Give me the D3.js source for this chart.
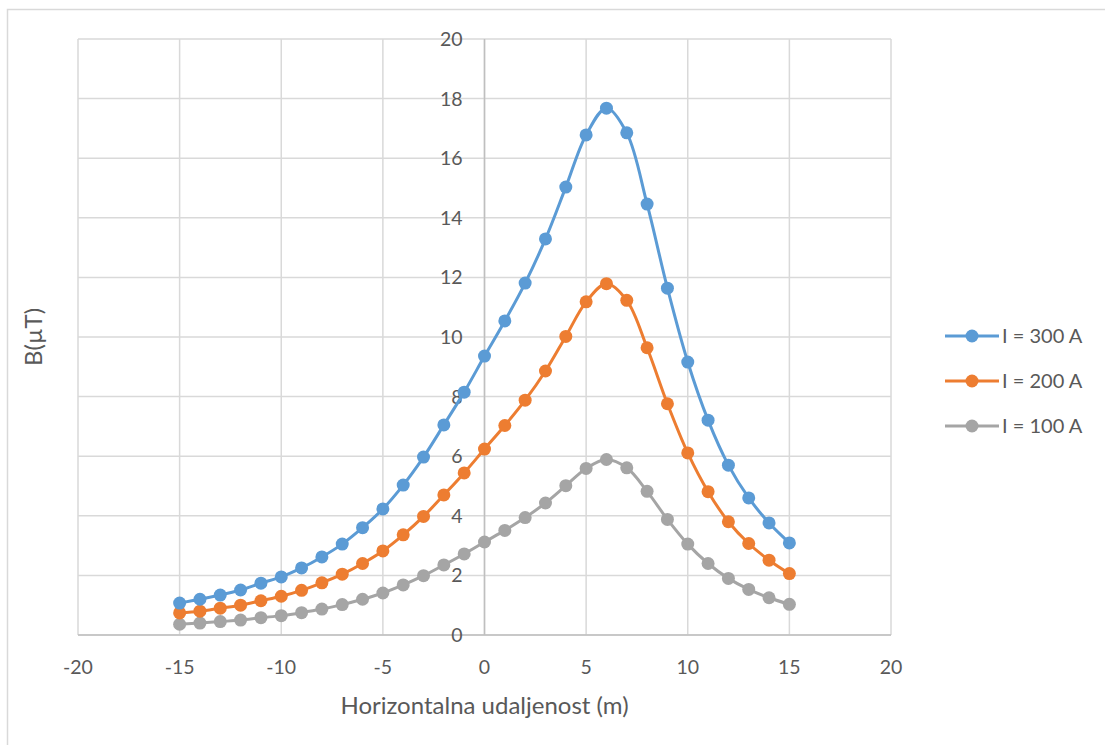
<!DOCTYPE html>
<html>
<head>
<meta charset="utf-8">
<script src="https://cdn.jsdelivr.net/npm/d3@7"></script>
<style>
  body { margin: 0; background: #fff; }
  text { font-family: Lato, "Open Sans", sans-serif; fill: #595959; }
</style>
</head>
<body>
<script>
// x positions (m)
const distances = d3.range(-15, 16);

// B values (uT)
const i300 = [1.07, 1.2, 1.34, 1.51, 1.74, 1.95, 2.25, 2.62, 3.05, 3.6, 4.23, 5.03, 5.97, 7.05, 8.15,
  9.36, 10.54, 11.81, 13.29, 15.03, 16.78, 17.68, 16.85, 14.46, 11.64, 9.16, 7.21, 5.7, 4.6, 3.76, 3.09];
const i200 = [0.74, 0.8, 0.9, 1.0, 1.15, 1.3, 1.5, 1.75, 2.04, 2.4, 2.82, 3.36, 3.98, 4.7, 5.44,
  6.24, 7.03, 7.88, 8.86, 10.02, 11.18, 11.79, 11.23, 9.64, 7.76, 6.11, 4.81, 3.8, 3.07, 2.51, 2.06];
const i100 = [0.36, 0.4, 0.45, 0.5, 0.58, 0.65, 0.75, 0.87, 1.02, 1.2, 1.41, 1.68, 1.99, 2.35, 2.72,
  3.12, 3.51, 3.94, 4.43, 5.01, 5.59, 5.89, 5.61, 4.82, 3.88, 3.05, 2.4, 1.9, 1.53, 1.25, 1.03];

const seriesNames = ['I = 300 A', 'I = 200 A', 'I = 100 A'];
const seriesColors = ['#5b9bd5', '#ed7d31', '#a5a5a5'];
const xTicks = [-20, -15, -10, -5, 0, 5, 10, 15, 20];
const yTicks = [0, 2, 4, 6, 8, 10, 12, 14, 16, 18, 20];

const series = [i300, i200, i100].map((vals, k) => ({
  name: seriesNames[k],
  color: seriesColors[k],
  points: vals.map((v, i) => ({ x: distances[i], y: v }))
}));

const width = 1105;
const height = 745;

const svg = d3.select('body')
  .append('svg')
  .attr('width', width)
  .attr('height', height);

// chart area border
svg.append('rect')
  .attr('x', 7.5)
  .attr('y', 9.5)
  .attr('width', 1200)
  .attr('height', 800)
  .attr('fill', 'none')
  .attr('stroke', '#d9d9d9')
  .attr('stroke-width', 1.5);

const xScale = d3.scaleLinear().domain([-20, 20]).range([78, 891]);
const yScale = d3.scaleLinear().domain([0, 20]).range([635, 39]);

// gridlines
svg.append('g')
  .selectAll('line')
  .data(xTicks)
  .enter()
  .append('line')
  .attr('x1', d => xScale(d))
  .attr('x2', d => xScale(d))
  .attr('y1', yScale(0))
  .attr('y2', yScale(20))
  .attr('stroke', '#d9d9d9')
  .attr('stroke-width', 1.5);

svg.append('g')
  .selectAll('line')
  .data(yTicks)
  .enter()
  .append('line')
  .attr('x1', xScale(-20))
  .attr('x2', xScale(20))
  .attr('y1', d => yScale(d))
  .attr('y2', d => yScale(d))
  .attr('stroke', '#d9d9d9')
  .attr('stroke-width', 1.5);

// axis lines through zero
svg.append('line')
  .attr('x1', xScale(-20)).attr('x2', xScale(20))
  .attr('y1', yScale(0)).attr('y2', yScale(0))
  .attr('stroke', '#bfbfbf').attr('stroke-width', 1.5);
svg.append('line')
  .attr('x1', xScale(0)).attr('x2', xScale(0))
  .attr('y1', yScale(0)).attr('y2', yScale(20))
  .attr('stroke', '#bfbfbf').attr('stroke-width', 1.5);

// tick labels
svg.append('g')
  .selectAll('text')
  .data(xTicks)
  .enter()
  .append('text')
  .attr('x', d => xScale(d))
  .attr('y', 674)
  .attr('text-anchor', 'middle')
  .attr('font-size', 19.5)
  .text(d => d);

svg.append('g')
  .selectAll('text')
  .data(yTicks)
  .enter()
  .append('text')
  .attr('x', xScale(0) - 22)
  .attr('y', d => yScale(d) + 7)
  .attr('text-anchor', 'end')
  .attr('font-size', 19.5)
  .text(d => d);

// axis titles
svg.append('text')
  .attr('x', xScale(0))
  .attr('y', 714)
  .attr('text-anchor', 'middle')
  .attr('font-size', 24)
  .text('Horizontalna udaljenost (m)');

svg.append('text')
  .attr('transform', `translate(42, ${yScale(10)}) rotate(-90)`)
  .attr('text-anchor', 'middle')
  .attr('font-size', 24)
  .text('B(µT)');

// lines and markers
const line = d3.line()
  .x(d => xScale(d.x))
  .y(d => yScale(d.y))
  .curve(d3.curveCatmullRom.alpha(0.5));

const groups = svg.selectAll('.series')
  .data(series.slice().reverse())
  .enter()
  .append('g')
  .attr('class', 'series');

groups.append('path')
  .attr('d', d => line(d.points))
  .attr('fill', 'none')
  .attr('stroke', d => d.color)
  .attr('stroke-width', 3)
  .attr('stroke-linejoin', 'round');

groups.each(function (s) {
  d3.select(this).selectAll('circle')
    .data(s.points)
    .enter()
    .append('circle')
    .attr('cx', d => xScale(d.x))
    .attr('cy', d => yScale(d.y))
    .attr('r', 6.5)
    .attr('fill', s.color);
});

// legend
const legend = svg.append('g')
  .selectAll('g')
  .data(series)
  .enter()
  .append('g')
  .attr('transform', (d, i) => `translate(945, ${336 + i * 45})`);

legend.append('line')
  .attr('x1', 0).attr('x2', 54)
  .attr('stroke', d => d.color)
  .attr('stroke-width', 3);

legend.append('circle')
  .attr('cx', 27)
  .attr('r', 6.5)
  .attr('fill', d => d.color);

legend.append('text')
  .attr('x', 57)
  .attr('y', 7)
  .attr('font-size', 20)
  .text(d => d.name);
</script>
</body>
</html>
